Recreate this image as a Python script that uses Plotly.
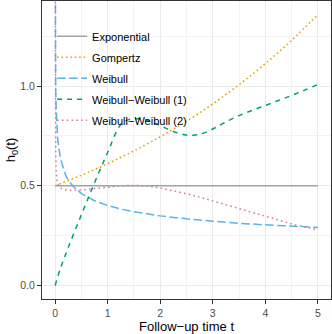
import plotly.graph_objects as go

# baseline hazard curves
t_exp = [0, 5]
h_exp = [0.5, 0.5]

t_gomp = [0, 0.5, 1, 1.5, 2, 2.5, 3, 3.5, 4, 4.5, 5]
h_gomp = [0.5, 0.553, 0.611, 0.675, 0.746, 0.824, 0.911, 1.007, 1.113, 1.230, 1.359]

t_weib = [0.0005, 0.001, 0.002, 0.005, 0.01, 0.02, 0.05, 0.1, 0.15, 0.2, 0.25, 0.35, 0.5, 0.65,
          0.75, 1.0, 1.25, 1.5, 2.0, 2.5, 3.0, 3.5, 4.0, 4.5, 5.0]
h_weib = [1.83, 1.60, 1.39, 1.157, 1.007, 0.877, 0.730, 0.636, 0.588, 0.553, 0.528, 0.495, 0.461, 0.437,
          0.425, 0.401, 0.383, 0.370, 0.349, 0.334, 0.322, 0.312, 0.304, 0.297, 0.291]

t_ww1 = [0, 0.1, 0.25, 0.5, 0.75, 1.0, 1.25, 1.4, 1.6, 1.8, 2.0, 2.25, 2.5, 2.75, 3.0, 3.25,
         3.5, 3.75, 4.0, 4.25, 4.5, 4.75, 5.0]
h_ww1 = [0, 0.085, 0.19, 0.355, 0.515, 0.668, 0.808, 0.832, 0.836, 0.824, 0.802, 0.772, 0.755, 0.758,
         0.785, 0.82, 0.852, 0.878, 0.903, 0.928, 0.953, 0.98, 1.008]

t_ww2 = [0.0005, 0.001, 0.002, 0.005, 0.01, 0.02, 0.04, 0.08, 0.15, 0.25, 0.5, 0.75, 1.0, 1.25,
         1.5, 1.75, 2.0, 2.25, 2.5, 2.75, 3.0, 3.25, 3.5, 3.75, 4.0, 4.25, 4.5, 4.75, 5.0]
h_ww2 = [2.0, 1.5, 1.15, 0.85, 0.68, 0.57, 0.515, 0.493, 0.483, 0.477, 0.479, 0.486, 0.494, 0.5,
         0.502, 0.499, 0.489, 0.475, 0.46, 0.443, 0.424, 0.404, 0.384, 0.364, 0.345, 0.326, 0.309,
         0.293, 0.278]

series = [
    ("Exponential", t_exp, h_exp, "#A3A3A3", "solid", "linear"),
    ("Gompertz", t_gomp, h_gomp, "#E69F00", "1.6px,2.8px", "spline"),
    ("Weibull", t_weib, h_weib, "#56B4E9", "8.5px,3.5px", "linear"),
    ("Weibull\u2212Weibull (1)", t_ww1, h_ww1, "#009E73", "5px,5px", "spline"),
    ("Weibull\u2212Weibull (2)", t_ww2, h_ww2, "#CC79A7", "1.6px,3.2px", "linear"),
]

fig = go.Figure()
for i, (name, tt, hh, col, dash, shape) in enumerate(series):
    fig.add_trace(go.Scatter(x=tt, y=hh, mode="lines", name=name, legendgroup=f"g{i}",
                             line=dict(color=col, width=1.5, dash=dash, shape=shape)))

fnt = "Liberation Sans, Arial, sans-serif"
fig.update_layout(
    width=332, height=334,
    margin=dict(l=42, r=1, t=1, b=35, autoexpand=False),
    paper_bgcolor="white", plot_bgcolor="white",
    font=dict(family=fnt, color="black"),
    legend=dict(x=0.035, y=0.93, xanchor="left", yanchor="top", bgcolor="rgba(0,0,0,0)",
                font=dict(size=11, family=fnt, color="black"), tracegroupgap=2,
                itemwidth=30),
)
fig.update_xaxes(range=[-0.25, 5.25], tickvals=[0, 1, 2, 3, 4, 5], automargin=False,
                 showgrid=True, gridcolor="#EBEBEB", gridwidth=1,
                 minor=dict(tickvals=[0.5, 1.5, 2.5, 3.5, 4.5], showgrid=True, gridcolor="#F2F2F2",
                            gridwidth=1, ticks=""),
                 showline=True, linecolor="#333333", linewidth=1, mirror=True,
                 ticks="outside", ticklen=4, tickcolor="#333333", tickwidth=1,
                 tickfont=dict(size=10.5, color="#4D4D4D"), zeroline=False,
                 title=dict(text="Follow\u2212up time t", font=dict(size=13), standoff=3))
fig.update_yaxes(range=[-0.068, 1.427], tickvals=[0, 0.5, 1.0], ticktext=["0.0", "0.5", "1.0"],
                 automargin=False,
                 showgrid=True, gridcolor="#EBEBEB", gridwidth=1,
                 minor=dict(tickvals=[0.25, 0.75, 1.25], showgrid=True, gridcolor="#F2F2F2",
                            gridwidth=1, ticks=""),
                 showline=True, linecolor="#333333", linewidth=1, mirror=True,
                 ticks="outside", ticklen=4, tickcolor="#333333", tickwidth=1,
                 tickfont=dict(size=10.5, color="#4D4D4D"), zeroline=False,
                 title=dict(text="h<sub>0</sub>(t)", font=dict(size=13), standoff=1))

# page body has a default 8px margin; drop it so the figure sits at the window corner
fig.write_html("out.html", config={"displayModeBar": False},
               post_script="document.body.style.margin='0';")
